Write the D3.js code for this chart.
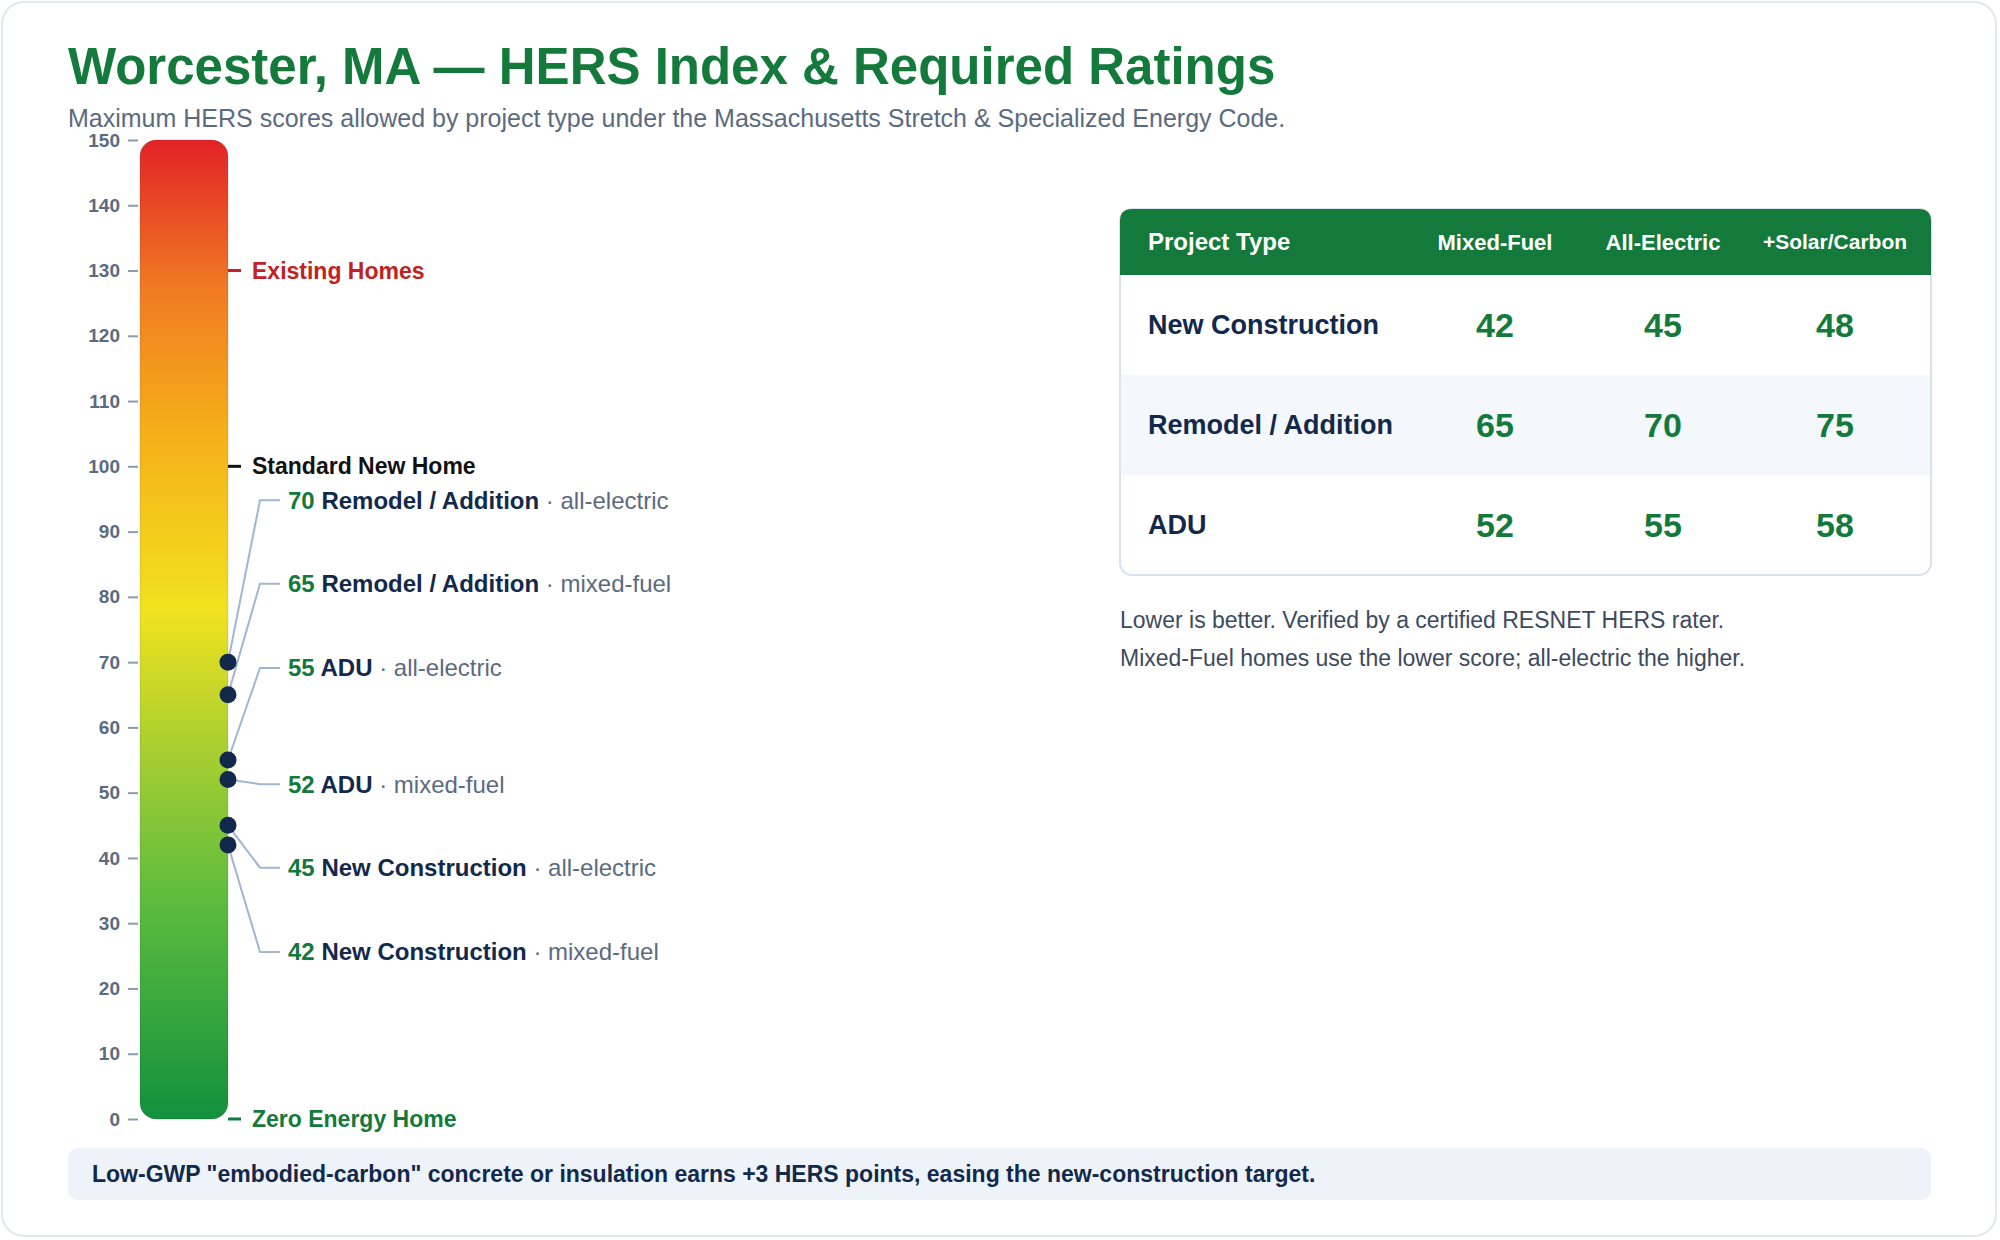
<!DOCTYPE html>
<html><head><meta charset="utf-8">
<script src="https://cdn.jsdelivr.net/npm/d3@7"></script>
<style>
body{margin:0;background:#fff;font-family:"Liberation Sans",Arial,sans-serif;}
</style></head>
<body><svg id="c" width="2000" height="1240"></svg>
<script>
const svg = d3.select('#c');

const projectTypes = ['New Construction', 'Remodel / Addition', 'ADU'];
const columns = ['Mixed-Fuel', 'All-Electric', '+Solar/Carbon'];
const mixedFuel = [42, 65, 52];
const allElectric = [45, 70, 55];
const solarCarbon = [48, 75, 58];
const ticks = d3.range(0, 151, 10);
const refLines = [
  { v: 130, label: 'Existing Homes', color: '#c0221f' },
  { v: 100, label: 'Standard New Home', color: '#111' },
  { v: 0, label: 'Zero Energy Home', color: '#137a3c' }
];
// annotation values and where their labels sit (in HERS units, after de-overlap)
const markers = [
  { v: 70, name: 'Remodel / Addition', fuel: 'all-electric', labelAt: 94.8 },
  { v: 65, name: 'Remodel / Addition', fuel: 'mixed-fuel', labelAt: 82 },
  { v: 55, name: 'ADU', fuel: 'all-electric', labelAt: 69.1 },
  { v: 52, name: 'ADU', fuel: 'mixed-fuel', labelAt: 51.3 },
  { v: 45, name: 'New Construction', fuel: 'all-electric', labelAt: 38.5 },
  { v: 42, name: 'New Construction', fuel: 'mixed-fuel', labelAt: 25.6 }
];

const green = '#137a3c', navy = '#13294b', gray = '#5b6b7f';

// card
svg.append('rect').attr('x', 2).attr('y', 2).attr('width', 1994).attr('height', 1234)
  .attr('rx', 22).attr('fill', '#fff').attr('stroke', '#e3e7ee').attr('stroke-width', 2);

svg.append('text').attr('x', 68).attr('y', 84).attr('fill', green)
  .attr('font-size', 51).attr('font-weight', 700)
  .text('Worcester, MA — HERS Index & Required Ratings');
svg.append('text').attr('x', 68).attr('y', 127).attr('fill', gray).attr('font-size', 25)
  .text('Maximum HERS scores allowed by project type under the Massachusetts Stretch & Specialized Energy Code.');

// scale + bar
const y = d3.scaleLinear().domain([0, 150]).range([1119, 140]);
const barX = 140, barW = 88;

const grad = svg.append('defs').append('linearGradient').attr('id', 'g')
  .attr('x1', 0).attr('y1', 1).attr('x2', 0).attr('y2', 0);
[[0, '#13903d'], [0.22, '#5cbb3e'], [0.38, '#a9cf30'], [0.52, '#f1e21f'], [0.7, '#f5b019'], [0.85, '#f07a22'], [1, '#e22227']]
  .forEach(([o, c]) => grad.append('stop').attr('offset', o).attr('stop-color', c));

svg.append('rect').attr('x', barX).attr('y', y(150)).attr('width', barW)
  .attr('height', y(0) - y(150)).attr('rx', 16).attr('fill', 'url(#g)')
  .attr('stroke', 'rgba(0,0,0,0.12)');

const axis = svg.append('g').attr('transform', `translate(${barX - 2},0)`)
  .call(d3.axisLeft(y).tickValues(ticks).tickSize(10).tickPadding(8));
axis.select('.domain').remove();
axis.selectAll('line').attr('stroke', '#8a9ab0').attr('stroke-width', 2);
axis.selectAll('text').attr('fill', '#5a6a80').attr('font-size', 19).attr('font-weight', 700)
  .attr('font-family', '"Liberation Sans",Arial,sans-serif');

// reference lines
refLines.forEach(r => {
  svg.append('line').attr('x1', barX + barW).attr('x2', barX + barW + 13)
    .attr('y1', y(r.v)).attr('y2', y(r.v)).attr('stroke', r.color).attr('stroke-width', 3);
  svg.append('text').attr('x', 252).attr('y', y(r.v)).attr('dy', '0.35em')
    .attr('fill', r.color).attr('font-size', 23).attr('font-weight', 700).text(r.label);
});

// markers with leaders
const bx = barX + barW;
markers.forEach(m => {
  const ly = y(m.labelAt);
  svg.append('path').attr('fill', 'none').attr('stroke', '#9fb6d4').attr('stroke-width', 2)
    .attr('d', d3.line()([[bx, y(m.v)], [260, ly], [280, ly]]));
  const t = svg.append('text').attr('x', 288).attr('y', ly).attr('dy', '0.35em').attr('font-size', 24);
  t.append('tspan').attr('fill', green).attr('font-weight', 700).text(m.v + ' ');
  t.append('tspan').attr('fill', navy).attr('font-weight', 700).text(m.name);
  t.append('tspan').attr('fill', gray).text(' · ' + m.fuel);
});
markers.forEach(m => {
  svg.append('circle').attr('cx', bx).attr('cy', y(m.v)).attr('r', 8.5).attr('fill', navy);
});

// table
const tx = 1120, tw = 811, ty = 209, hh = 66;
const rowY = d3.scaleBand().domain(projectTypes).range([ty + hh, 575]);
const colX = d3.scalePoint().domain(columns).range([1495, 1835]);
const colCenters = { 'Mixed-Fuel': 1495, 'All-Electric': 1663, '+Solar/Carbon': 1835 };
svg.append('rect').attr('x', tx).attr('y', ty).attr('width', tw).attr('height', 575 - ty)
  .attr('rx', 12).attr('fill', '#fff').attr('stroke', '#d9e1ec').attr('stroke-width', 2);
svg.append('rect').attr('x', tx + 1).attr('y', rowY(projectTypes[1])).attr('width', tw - 2)
  .attr('height', rowY.bandwidth()).attr('fill', '#f4f7fb');
svg.append('path').attr('fill', green)
  .attr('d', `M${tx},${ty + hh}V${ty + 12}Q${tx},${ty} ${tx + 12},${ty}H${tx + tw - 12}Q${tx + tw},${ty} ${tx + tw},${ty + 12}V${ty + hh}Z`);
svg.append('text').attr('x', 1148).attr('y', ty + hh / 2).attr('dy', '0.35em')
  .attr('fill', '#fff').attr('font-size', 24).attr('font-weight', 700).text('Project Type');
columns.forEach(c => svg.append('text').attr('x', colCenters[c]).attr('y', ty + hh / 2).attr('dy', '0.35em')
  .attr('text-anchor', 'middle').attr('fill', '#fff').attr('font-size', c === '+Solar/Carbon' ? 21 : 22)
  .attr('font-weight', 700).text(c));
const series = [mixedFuel, allElectric, solarCarbon];
projectTypes.forEach((p, i) => {
  const cy = rowY(p) + rowY.bandwidth() / 2;
  svg.append('text').attr('x', 1148).attr('y', cy).attr('dy', '0.35em')
    .attr('fill', navy).attr('font-size', 27).attr('font-weight', 700).text(p);
  columns.forEach((c, j) => svg.append('text').attr('x', colCenters[c]).attr('y', cy).attr('dy', '0.35em')
    .attr('text-anchor', 'middle').attr('fill', green).attr('font-size', 34).attr('font-weight', 700)
    .text(series[j][i]));
});

svg.append('text').attr('x', 1120).attr('y', 628).attr('fill', '#3c4a5e').attr('font-size', 23)
  .text('Lower is better. Verified by a certified RESNET HERS rater.');
svg.append('text').attr('x', 1120).attr('y', 666).attr('fill', '#3c4a5e').attr('font-size', 23)
  .text('Mixed-Fuel homes use the lower score; all-electric the higher.');

// footer
svg.append('rect').attr('x', 68).attr('y', 1148).attr('width', 1863).attr('height', 52)
  .attr('rx', 10).attr('fill', '#eef3f9');
svg.append('text').attr('x', 92).attr('y', 1174).attr('dy', '0.35em').attr('fill', navy)
  .attr('font-size', 23).attr('font-weight', 700)
  .text('Low-GWP "embodied-carbon" concrete or insulation earns +3 HERS points, easing the new-construction target.');
</script></body></html>
